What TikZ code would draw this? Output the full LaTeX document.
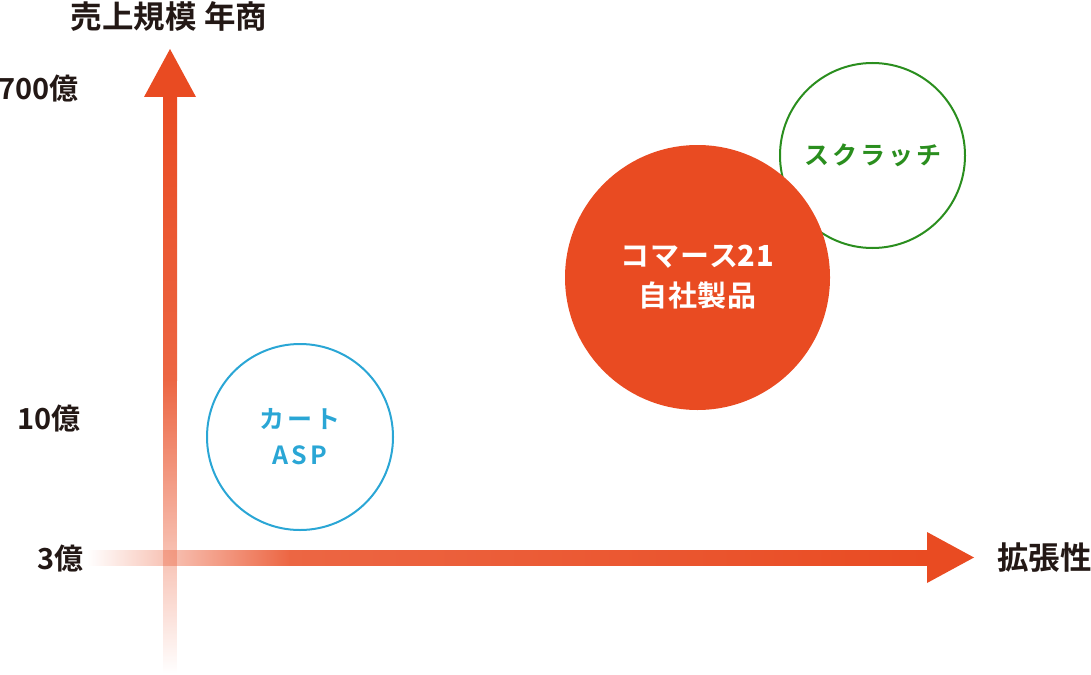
\documentclass[tikz,border=0pt]{standalone}
\usepackage{fontspec}
\setmainfont{Noto Sans CJK JP}[BoldFont={Noto Sans CJK JP Bold}]
\newfontfamily\spacedfont{Noto Sans CJK JP Bold}[LetterSpace=12]
\newfontfamily\tightfont{Noto Sans CJK JP Bold}[LetterSpace=3]
\usepackage{tikz}
\usetikzlibrary{fadings}
\definecolor{axisRed}{HTML}{E94B22}
\definecolor{cartBlue}{HTML}{2AA6D5}
\definecolor{scratchGreen}{HTML}{2A8E1E}
\definecolor{labelBlack}{HTML}{231815}
\colorlet{shaftRed}{axisRed!85!white}
\tikzfading[name=fade up, top color=transparent!0, middle color=transparent!65, bottom color=transparent!100]

\begin{document}
\begin{tikzpicture}[
  x=1pt, y=-1pt,
  axis label/.style={
    inner sep=0pt,
    text=labelBlack,
    font=\bfseries\fontsize{29}{32}\selectfont
  },
  axis title/.style={
    axis label,
    font=\bfseries\fontsize{31.5}{34}\selectfont
  },
  bubble/.style={
    circle,
    inner sep=0pt,
    line width=2pt,
    align=center
  }
]
\useasboundingbox (0,0) rectangle (1091,674);
% axes
\coordinate (yTip) at (170,49);
\coordinate (xTip) at (974,557.5);
\shade[left color=white, middle color=axisRed!18!white, right color=shaftRed] (87,550) rectangle (290,565);
\shade[left color=shaftRed, right color=axisRed] (289.5,550) rectangle (927,565);
\shade[top color=axisRed, bottom color=shaftRed] (163,97) rectangle (177,380);
\fill[shaftRed, path fading=fade up] (163,379.5) rectangle (177,673);
\fill[axisRed] (144,97) -- (yTip) -- (196,97) -- cycle;
\fill[axisRed] (927,532) -- (xTip) -- (927,583) -- cycle;
\node (sales) [axis title] at (169,17) {売上規模 年商};
\node (scale) [axis title, anchor=west] at (997,557.5) {拡張性};
\node (top) [axis label, anchor=east] at (79,89) {700億};
\node (mid) [axis label, anchor=east] at (81,419) {10億};
\node (low) [axis label, anchor=east] at (84,559) {3億};
% bubbles
\node (scratch) [bubble, draw=scratchGreen, minimum size=185pt,
  text=scratchGreen, font=\spacedfont\fontsize{25}{30}\selectfont]
  at (872.5,155.5) {スクラッチ};
\node (commerce) [bubble, fill=axisRed, minimum size=265pt,
  text=white, font=\tightfont\fontsize{29}{40}\selectfont]
  at (697.5,277.5) {コマース{\bfseries 21}\\自社製品};
\node (cart) [bubble, draw=cartBlue, minimum size=186pt,
  text=cartBlue, font=\spacedfont\fontsize{25}{36}\selectfont]
  at (300,437) {カート\\ASP};
\end{tikzpicture}
\end{document}
